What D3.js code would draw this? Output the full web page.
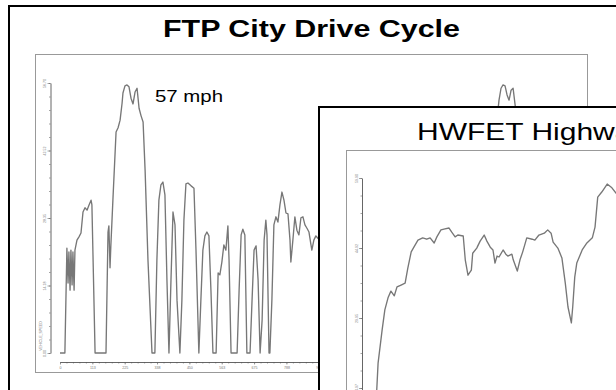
<!DOCTYPE html>
<html>
<head>
<meta charset="utf-8">
<script src="https://cdn.jsdelivr.net/npm/d3@7"></script>
<style>
  body { margin: 0; background: #fff; overflow: hidden; }
  svg { display: block; font-family: Arial, "Liberation Sans", sans-serif; }
</style>
</head>
<body>
<svg width="616" height="390"></svg>
<script>
// FTP city cycle: time (s) and speed (mph)
const ftpTime = [0, 17, 24, 28, 31, 35, 38, 42, 45, 49, 52, 59, 66, 73, 80, 87, 94, 101, 108, 111, 122,
  160, 167, 170, 174, 177, 184, 195, 202, 209, 216, 219, 226, 233, 240, 247, 254, 261, 268, 275, 282, 289, 296, 306, 320,
  330, 337, 344, 351, 358, 365, 372, 379, 386, 393, 400, 407, 417, 424, 431, 438, 445, 456, 466, 473, 483,
  490, 497, 504, 511, 518, 525, 532, 543, 550, 556, 563, 570, 577, 584, 588, 595, 616, 623, 630, 636, 643, 650,
  661, 668, 675, 682, 689, 696, 703, 710, 716, 720, 727, 730, 737, 744, 751, 758, 765, 772, 779, 786, 793, 800,
  803, 810, 817, 824, 831, 838, 845, 852, 859, 866, 873, 876, 883, 890, 897, 904, 939, 974,
  1496, 1506, 1516, 1527, 1534, 1541, 1548, 1555, 1562, 1569, 1576, 1583, 1589, 1603, 1621];
const ftpSpeed = [0, 0, 22.0, 14.7, 21.2, 13.2, 21.6, 14.3, 21.2, 13.2, 21.6, 23.7, 24.4, 25.2, 29.6, 30.5, 30.0, 31.1, 32.1, 31.1, 0,
  0, 25.4, 26.7, 17.9, 22.7, 32.1, 46.4, 47.3, 48.9, 52.5, 54.6, 56.1, 56.3, 55.9, 53.5, 52.3, 54.8, 55.6, 51.4, 49.8, 48.5, 38.4, 19.5, 0,
  0, 19.5, 32.1, 35.3, 35.9, 33.2, 15.3, 0, 15.3, 29.6, 26.9, 11.1, 0, 11.1, 27.9, 35.5, 35.7, 35.1, 34.6, 21.6, 0,
  11.1, 21.6, 24.6, 25.4, 24.6, 13.2, 0, 0, 16.8, 16.4, 19.1, 22.7, 21.6, 26.7, 19.5, 0, 0, 13.2, 24.8, 26.0, 24.8, 0,
  0, 11.1, 21.6, 22.5, 15.3, 0, 6.9, 23.7, 27.9, 24.8, 0, 0, 11.1, 26.9, 28.6, 27.5, 31.1, 33.8, 32.1, 29.4, 29.2, 23.7,
  19.1, 23.7, 28.6, 25.8, 24.8, 28.4, 28.6, 26.9, 26.2, 25.4, 22.7, 21.6, 23.7, 24.6, 24.1, 23.7, 11.1, 0,
  0, 25.8, 46.8, 53.1, 55.6, 56.3, 56.1, 54.2, 53.1, 55.2, 55.6, 52.1, 48.9, 32.1, 0];
const ftpYTicks = [0, 14.175, 28.35, 42.525, 56.7];
const ftpXTicks = [0, 112.5, 225, 337.5, 450, 562.5, 675, 787.5, 900, 1012.5, 1125, 1237.5, 1350, 1462.5, 1575, 1687.5, 1800];

// HWFET highway cycle
const hwTime = [0, 7, 9, 15, 19, 24, 28, 33, 37, 43, 49, 53, 58, 62, 68, 75, 81, 86, 92, 96, 102, 108, 114, 118, 123,
  127, 135, 138, 142, 147, 149, 155, 160, 166, 170, 175, 179, 182, 185, 188, 194, 198, 201, 207, 209, 215, 219, 223,
  229, 237, 241, 247, 255, 260, 265, 268, 275, 281, 286, 290, 295, 297, 300, 303, 311, 318, 326, 330, 334, 340,
  348, 355, 361, 367];
const hwSpeed = [0, 14.5, 20.3, 27.4, 31.7, 34.4, 35.7, 34.7, 36.6, 37.0, 37.4, 40.6, 44.1, 45.1, 46.6, 47.1, 46.8, 47.1,
  46.0, 47.3, 48.8, 49.0, 49.2, 48.3, 47.3, 47.7, 47.5, 42.4, 39.1, 40.2, 43.8, 44.9, 46.4, 47.7, 46.4, 45.1, 44.5,
  41.7, 43.2, 43.0, 44.5, 43.6, 43.2, 43.6, 42.4, 40.0, 42.4, 44.1, 47.1, 46.8, 46.6, 47.7, 48.1, 48.8, 48.1, 46.2,
  44.9, 42.8, 37.4, 32.3, 28.9, 32.3, 38.7, 41.7, 44.5, 46.0, 47.1, 49.4, 55.8, 56.9, 58.6, 57.8, 56.7, 55.2];
const hwYTicks = [0, 14.975, 29.95, 44.925, 59.9];
const hwXTicks = [0, 95.6, 191.3, 286.9, 382.5, 478.1, 573.8, 669.4, 765];

const svg = d3.select('svg');
svg.append('rect').attr('width', 616).attr('height', 390).attr('fill', '#fff');

const gray = '#777';
const fmt = d3.format('.2f');

/* ==================================
Helper: one screenshot-like speed trace
================================== */
function drawTrace(g, o) {
  const x = d3.scaleLinear().domain(o.xDomain).range(o.xRange);
  const y = d3.scaleLinear().domain(o.yDomain).range(o.yRange);

  // minor ticks first
  const yMinor = d3.range(0, o.yDomain[1] + 1e-6, o.yDomain[1] / o.yMinorN);
  g.append('g').attr('transform', `translate(${o.yAxisX},0)`)
    .call(d3.axisLeft(y).tickValues(yMinor).tickSize(1.5).tickFormat(''))
    .call((a) => a.select('.domain').remove());
  g.append('g').attr('transform', `translate(${o.yAxisX},0)`)
    .call(d3.axisLeft(y).tickValues(o.yTicks).tickSize(3).tickFormat(fmt).tickSizeOuter(0))
    .call((a) => a.selectAll('text')
      .attr('x', null).attr('dy', null)
      .attr('transform', 'translate(-4.5,0) rotate(-90)')
      .attr('text-anchor', 'middle'));

  const xMinor = d3.range(o.xDomain[0], o.xDomain[1] + 1e-6, (o.xTicks[1] - o.xTicks[0]) / 5);
  g.append('g').attr('transform', `translate(0,${o.xAxisY})`)
    .call(d3.axisBottom(x).tickValues(xMinor).tickSize(1.5).tickFormat(''))
    .call((a) => a.select('.domain').remove());
  g.append('g').attr('transform', `translate(0,${o.xAxisY})`)
    .call(d3.axisBottom(x).tickValues(o.xTicks).tickSize(2.5)
      .tickFormat(o.xLabels ? d3.format('.0f') : '').tickSizeOuter(0))
    .call((a) => a.selectAll('text').attr('y', 4));

  g.selectAll('.domain').attr('stroke', '#555').attr('stroke-width', 0.9);
  g.selectAll('.tick line').attr('stroke', '#666').attr('stroke-width', 0.6);
  g.selectAll('.tick text').attr('font-size', 3.6).attr('fill', '#777').attr('font-family', 'Arial');

  g.append('text')
    .attr('transform', `translate(${o.yAxisX - 9},${o.yRange[0] - 17}) rotate(-90)`)
    .attr('text-anchor', 'middle')
    .attr('font-size', 3.6).attr('fill', '#777')
    .text('VEHICLE_SPEED');

  const line = d3.line().x((d) => x(d[0])).y((d) => y(d[1]));
  g.append('path')
    .datum(d3.zip(o.t, o.v))
    .attr('d', line)
    .attr('fill', 'none')
    .attr('stroke', gray)
    .attr('stroke-width', 1.35)
    .attr('stroke-linejoin', 'round');
}

/* ==================================
FTP panel
================================== */
svg.append('rect').attr('x', 9).attr('y', 6).attr('width', 700).attr('height', 500)
  .attr('fill', '#fff').attr('stroke', '#000').attr('stroke-width', 2);
svg.append('text').attr('x', 163).attr('y', 37)
  .attr('font-size', 24).attr('font-weight', 'bold')
  .attr('textLength', 297).attr('lengthAdjust', 'spacingAndGlyphs')
  .text('FTP City Drive Cycle');
svg.append('rect').attr('x', 35.5).attr('y', 54.5).attr('width', 552).attr('height', 318)
  .attr('fill', '#fff').attr('stroke', '#999').attr('stroke-width', 1);

const gFtp = svg.append('g');
drawTrace(gFtp, {
  t: ftpTime, v: ftpSpeed,
  xDomain: [0, 1800], xRange: [60, 577.5],
  yDomain: [0, 56.7], yRange: [353, 83],
  yTicks: ftpYTicks, xTicks: ftpXTicks, yMinorN: 20, xLabels: true,
  yAxisX: 50.5, xAxisY: 362
});
svg.append('text')
  .attr('transform', 'translate(155,102) scale(1.2,1)')
  .attr('font-size', 17)
  .text('57 mph');

/* ==================================
HWFET panel (pasted over the first one)
================================== */
svg.append('rect').attr('x', 319).attr('y', 107).attr('width', 400).attr('height', 400)
  .attr('fill', '#fff').attr('stroke', '#000').attr('stroke-width', 2);
svg.append('text')
  .attr('transform', 'translate(417,140) scale(1.25,1)')
  .attr('font-size', 24)
  .text('HWFET Highway Cycle');
svg.append('rect').attr('x', 346.5).attr('y', 150.5).attr('width', 552).attr('height', 318)
  .attr('fill', '#fff').attr('stroke', '#999').attr('stroke-width', 1);

const gHw = svg.append('g');
drawTrace(gHw, {
  t: hwTime, v: hwSpeed,
  xDomain: [0, 765], xRange: [372, 889],
  yDomain: [0, 59.9], yRange: [458, 178],
  yTicks: hwYTicks, xTicks: hwXTicks, yMinorN: 16, xLabels: false,
  yAxisX: 362, xAxisY: 467
});
</script>
</body>
</html>
